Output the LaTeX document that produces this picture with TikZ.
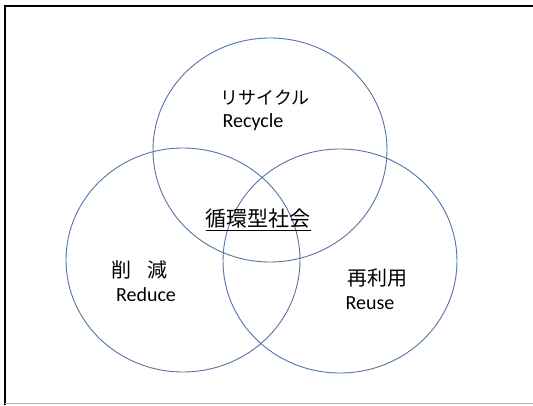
\documentclass[tikz,border=0pt]{standalone}
\usepackage{fontspec}
\setmainfont{Carlito}
\newfontfamily\jp{Noto Sans CJK JP}
\definecolor{ring}{RGB}{85,115,165}
\begin{document}
\begin{tikzpicture}[x=1pt,y=-1pt,
  ringstyle/.style={draw=ring,line width=0.9pt},
  jplabel/.style={font=\jp\fontsize{20}{24}\selectfont,inner sep=0pt},
  enlabel/.style={font=\fontsize{20}{24}\selectfont,inner sep=0pt}]
\useasboundingbox (0,0) rectangle (533,405);
\fill[white] (0,0) rectangle (533,405);
\draw[black,line width=2pt] (5,405) -- (5,6) -- (533,6);
\draw[black!30,line width=1pt] (5,403.5) -- (533,403.5);
\draw[ringstyle] (270,150) ellipse [x radius=117,y radius=112];
\draw[ringstyle] (183,260) ellipse [x radius=117,y radius=112];
\draw[ringstyle] (340,261) ellipse [x radius=117,y radius=112];
\node[jplabel,font=\jp\fontsize{18}{22}\selectfont] (recjp) at (265,98) {リサイクル};
\node[enlabel] (recen) at (253,122) {Recycle};
\node[jplabel,font=\jp\fontsize{21}{24}\selectfont] (center) at (258,220) {\underline{循環型社会}};
\node[jplabel] (redjp) at (139,270) {削\hspace{0.8em}減};
\node[enlabel] (reden) at (146,295) {Reduce};
\node[jplabel] (reujp) at (377,278) {再利用};
\node[enlabel] (reuen) at (370,303) {Reuse};
\end{tikzpicture}
\end{document}
